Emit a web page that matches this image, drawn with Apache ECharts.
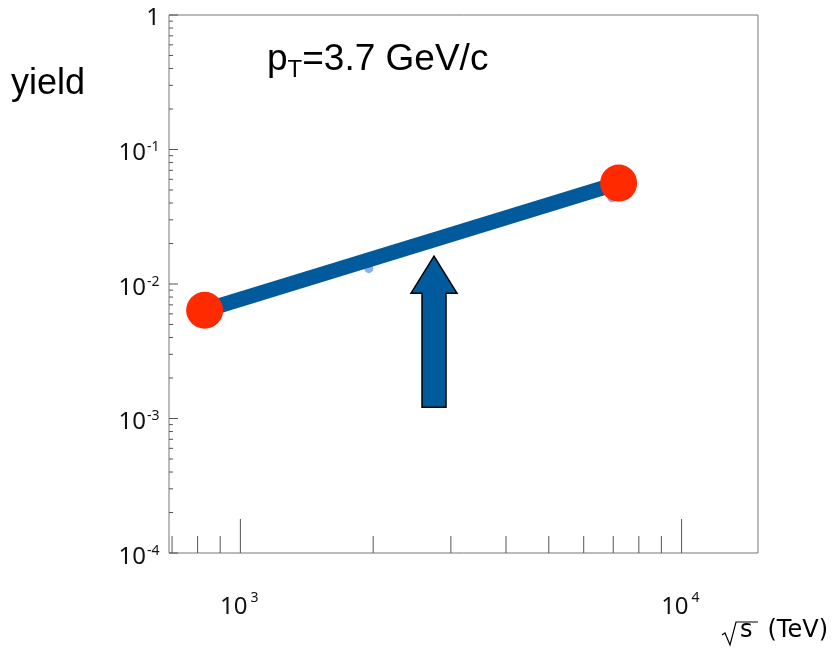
<!DOCTYPE html>
<html>
<head>
<meta charset="utf-8">
<title>yield vs sqrt(s)</title>
<script src="https://cdn.jsdelivr.net/npm/echarts@6/dist/echarts.min.js"></script>
<style>
  body { margin: 0; background: #fff; }
  #main { width: 833px; height: 649px; }
</style>
</head>
<body>
<div id="main"></div>
<script>
// measured points (sqrt(s) in GeV, yield)
const endPoints = [[830, 0.00638], [7200, 0.0563]];
const faintPoints = [[1955, 0.0130], [6950, 0.0437]];
// arrow: x, base yield, tip yield
const arrowData = [[2747, 0.00121, 0.0161]];

const xMajorTicks = [1000, 10000];
const xMinorTicks = [700, 800, 900, 2000, 3000, 4000, 5000, 6000, 7000, 8000, 9000];
const xLabels = [[1000, '3'], [10000, '4']];
const yMajorTicks = [1e-4, 1e-3, 1e-2, 1e-1, 1];
const yMinorTicks = [];
[1e-4, 1e-3, 1e-2, 1e-1].forEach(function (d) {
  for (let k = 2; k <= 9; k++) yMinorTicks.push(+(k * d).toPrecision(3));
});
const yLabels = [[1, ''], [1e-1, '-1'], [1e-2, '-2'], [1e-3, '-3'], [1e-4, '-4']];

const tickColor = '#555';
const lblFont = '"Noto Sans", "Open Sans", sans-serif';
const arial = '"Liberation Sans", Arial, sans-serif';

function xTickSeries(data, len) {
  return {
    type: 'custom', silent: true, z: 3, clip: false,
    data: data.map(function (v) { return [v, 1]; }),
    renderItem: function (params, api) {
      const cs = params.coordSys;
      const p = api.coord([api.value(0), 1]);
      const yb = cs.y + cs.height;
      return { type: 'line', shape: { x1: p[0], y1: yb, x2: p[0], y2: yb - len },
        style: { stroke: tickColor, lineWidth: 1 } };
    }
  };
}
function yTickSeries(data, len) {
  return {
    type: 'custom', silent: true, z: 3, clip: false,
    data: data.map(function (v) { return [1000, v]; }),
    renderItem: function (params, api) {
      const cs = params.coordSys;
      const p = api.coord([1000, api.value(1)]);
      return { type: 'line', shape: { x1: cs.x, y1: p[1], x2: cs.x + len, y2: p[1] },
        style: { stroke: tickColor, lineWidth: 1 } };
    }
  };
}

const chart = echarts.init(document.getElementById('main'), null, { renderer: 'canvas' });
chart.setOption({
  animation: false,
  grid: { left: 169, top: 15, right: 75, bottom: 96, show: true, borderColor: '#777', borderWidth: 1 },
  xAxis: {
    type: 'log', logBase: 10, min: 689, max: 14900,
    axisLine: { show: false }, axisTick: { show: false }, axisLabel: { show: false }, splitLine: { show: false }
  },
  yAxis: {
    type: 'log', logBase: 10, min: 1e-4, max: 1,
    axisLine: { show: false }, axisTick: { show: false }, axisLabel: { show: false }, splitLine: { show: false }
  },
  graphic: [
    { type: 'text', left: 11, top: 66, style: { text: 'yield', font: '36px ' + arial, fill: '#000' } },
    { type: 'text', left: 267, top: 38, style: {
      text: '{a|p}{s|T}{a|=3.7 GeV/c}',
      rich: {
        a: { fontSize: 37, fontFamily: arial, fill: '#000', lineHeight: 44 },
        s: { fontSize: 24, fontFamily: arial, fill: '#000', lineHeight: 44, padding: [20, 0, 0, 0] }
      } } },
    // radical sign for sqrt(s)
    { type: 'polyline', shape: { points: [[722, 635], [725, 633], [730, 645], [736, 622], [758, 622]] },
      style: { stroke: '#000', lineWidth: 1.2, fill: null } },
    { type: 'text', left: 740, top: 619, style: { text: 's', font: '24px "DejaVu Sans", sans-serif', fill: '#000' } },
    { type: 'text', right: 5, top: 619, style: { text: '(TeV)', font: '24px "DejaVu Sans", sans-serif', fill: '#000' } }
  ],
  series: [
    xTickSeries(xMinorTicks, 17),
    xTickSeries(xMajorTicks, 34),
    yTickSeries(yMinorTicks, 4),
    yTickSeries(yMajorTicks, 9),
    {
      type: 'custom', silent: true, clip: false,
      data: xLabels,
      renderItem: function (params, api) {
        const cs = params.coordSys;
        const p = api.coord([api.value(0), 1]);
        const yb = cs.y + cs.height;
        const exp = xLabels[params.dataIndex][1];
        return { type: 'group', children: [
          { type: 'text', style: { text: '10', x: p[0] + 7, y: yb + 54, align: 'right', verticalAlign: 'middle', font: '24px ' + lblFont, fill: '#111' } },
          { type: 'text', style: { text: exp, x: p[0] + 10, y: yb + 45, align: 'left', verticalAlign: 'middle', font: '14px ' + lblFont, fill: '#111' } }
        ] };
      }
    },
    {
      type: 'custom', silent: true, clip: false,
      data: yLabels.map(function (d) { return [1000, d[0]]; }),
      renderItem: function (params, api) {
        const cs = params.coordSys;
        const p = api.coord([1000, api.value(1)]);
        const exp = yLabels[params.dataIndex][1];
        if (!exp) {
          return { type: 'text', style: { text: '1', x: cs.x - 9, y: p[1] + 3, align: 'right', verticalAlign: 'middle', font: '24px ' + lblFont, fill: '#111' } };
        }
        return { type: 'group', children: [
          { type: 'text', style: { text: '10', x: cs.x - 23, y: p[1] + 4, align: 'right', verticalAlign: 'middle', font: '24px ' + lblFont, fill: '#111' } },
          { type: 'text', style: { text: exp, x: cs.x - 22, y: p[1] - 2, align: 'left', verticalAlign: 'middle', font: '14px ' + lblFont, fill: '#111' } }
        ] };
      }
    },
    {
      type: 'scatter', data: faintPoints, symbolSize: 9, z: 4,
      itemStyle: { color: '#8fb0e6', opacity: 1 }
    },
    {
      type: 'line', data: endPoints, symbol: 'none', z: 5,
      lineStyle: { color: '#005a9c', width: 15, cap: 'butt' }
    },
    {
      type: 'scatter', data: endPoints, symbolSize: 37, z: 6,
      itemStyle: { color: '#ff2a00', opacity: 1 }
    },
    {
      type: 'custom', z: 7, clip: false,
      data: arrowData,
      renderItem: function (params, api) {
        const base = api.coord([api.value(0), api.value(1)]);
        const tip = api.coord([api.value(0), api.value(2)]);
        const x = tip[0], hw = 23, sw = 12, hh = 37;
        return { type: 'polygon', shape: { points: [
          [x, tip[1]], [x + hw, tip[1] + hh], [x + sw, tip[1] + hh], [x + sw, base[1]],
          [x - sw, base[1]], [x - sw, tip[1] + hh], [x - hw, tip[1] + hh]
        ] }, style: { fill: '#005a9c', stroke: '#000', lineWidth: 1.5 } };
      }
    }
  ]
});
</script>
</body>
</html>
